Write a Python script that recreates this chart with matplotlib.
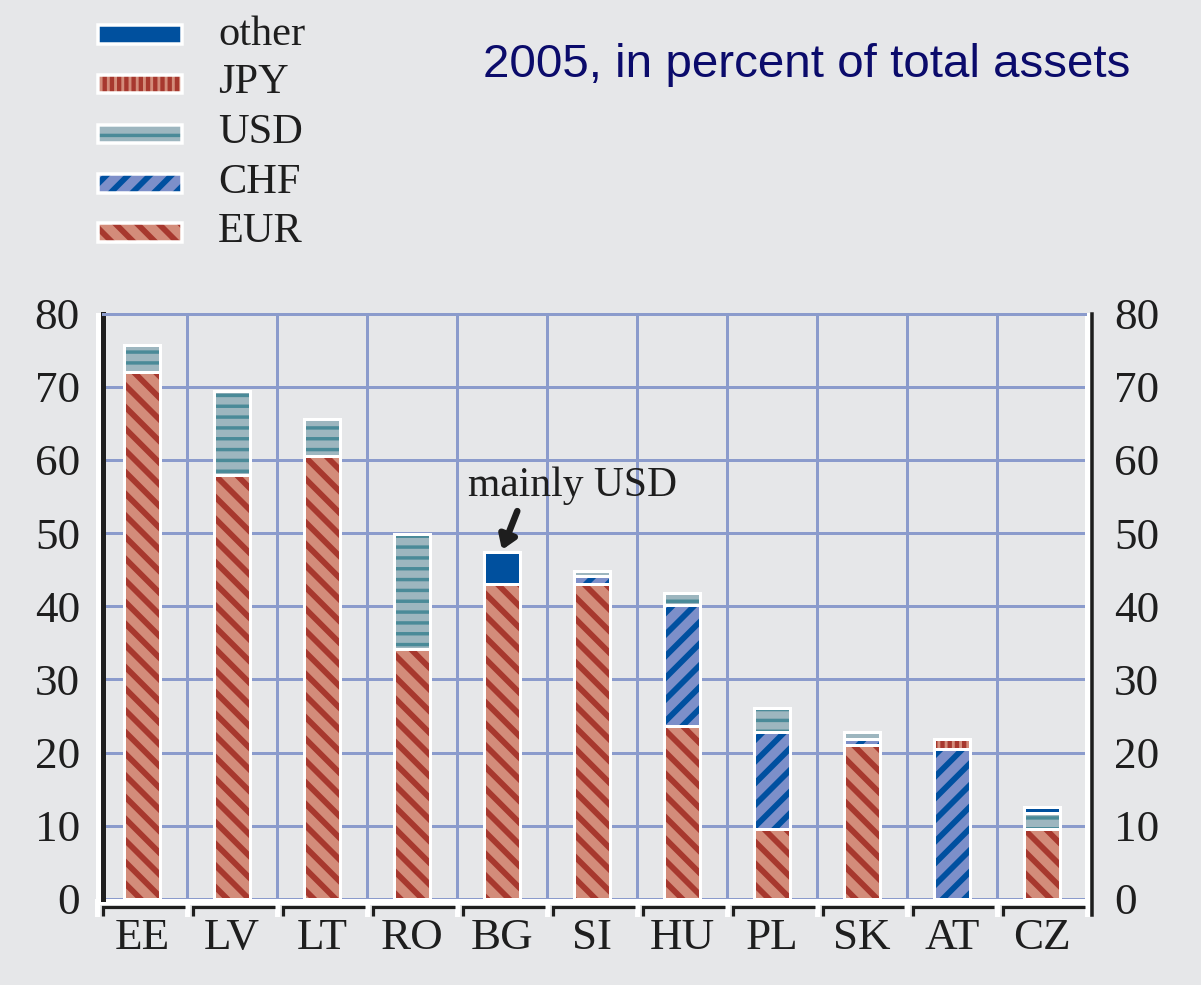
import numpy as np
import matplotlib.pyplot as plt
from matplotlib.patches import Rectangle
from matplotlib.transforms import blended_transform_factory

# data (percent of total assets, 2005)
countries = ['EE', 'LV', 'LT', 'RO', 'BG', 'SI', 'HU', 'PL', 'SK', 'AT', 'CZ']
eur   = np.array([72.0, 57.9, 60.5, 34.2, 43.1, 43.1, 23.6, 9.6, 21.1, 0.0, 9.6])
chf   = np.array([0.0, 0.0, 0.0, 0.0, 0.0, 1.0, 16.6, 13.2, 0.8, 20.5, 0.0])
usd   = np.array([3.7, 11.5, 5.1, 15.7, 0.0, 0.7, 1.6, 3.3, 0.9, 0.0, 2.2])
jpy   = np.array([0.0, 0.0, 0.0, 0.0, 0.0, 0.0, 0.0, 0.0, 0.0, 1.4, 0.0])
other = np.array([0.0, 0.0, 0.0, 0.0, 4.3, 0.0, 0.0, 0.0, 0.0, 0.0, 0.8])
yticks = [0, 10, 20, 30, 40, 50, 60, 70, 80]

W, H, DPI = 1201, 985, 130
def pt(px):
    return px * 72 / DPI

serif = 'Liberation Serif'
plt.rcParams['font.family'] = [serif, 'DejaVu Serif']
plt.rcParams['hatch.linewidth'] = 3.2
bg = '#e6e7e9'
gridc = '#8b9bcc'
ink = '#1e1e1e'

# name, values, face colour, stripe colour, hatch, stripe width
series = [
    ('EUR', eur, '#d38c7a', '#a7382e', '\\\\', 3.2),
    ('CHF', chf, '#7d8fc9', '#0050a0', '//', 3.2),
    ('USD', usd, '#9db6bf', '#4a8a98', '--', 1.9),
    ('JPY', jpy, '#d38c7a', '#a7382e', '|||', 2.4),
    ('other', other, '#00509e', '#00509e', None, 3.2),
]

fig = plt.figure(figsize=(W / DPI, H / DPI), dpi=DPI, facecolor=bg)

# axes area in pixels
L, R, T, B = 102.5, 1085, 313.5, 899
ax = fig.add_axes([L / W, 1 - B / H, (R - L) / W, (B - T) / H])
ax.set_facecolor(bg)
x0 = -0.5 + (L - 97) / 90
x1 = -0.5 + (R - 97) / 90
ax.set_xlim(x0, x1)
ax.set_ylim(0, 80)

# white frame behind the plot area
fig.patches.append(Rectangle((96 / W, 1 - 905 / H), (1090 - 96) / W, (905 - 313) / H,
                             transform=fig.transFigure, facecolor='white',
                             edgecolor='none', zorder=-1))

x = np.arange(len(countries))
width = 0.41
bottom = np.zeros(len(countries))
for name, vals, face, hc, hatch, hlw in series:
    m = vals > 0
    with plt.rc_context({'hatch.linewidth': hlw}):
        ax.bar(x[m], vals[m], width, bottom=bottom[m], color=face, edgecolor=hc,
               hatch=hatch, linewidth=0, zorder=2)
    ax.bar(x[m], vals[m], width, bottom=bottom[m], facecolor='none',
           edgecolor='white', linewidth=pt(3), zorder=3)
    bottom += vals

# grid
ax.set_axisbelow(True)
ax.set_yticks(yticks)
ax.set_xticks(x)
ax.set_xticklabels(countries)
ax.set_xticks(np.arange(len(countries) - 1) + 0.5, minor=True)
ax.grid(axis='y', which='major', color=gridc, linewidth=pt(3))
ax.grid(axis='x', which='minor', color=gridc, linewidth=pt(3))
ax.yaxis.get_major_ticks()[0].gridline.set_visible(False)

ax.tick_params(axis='y', which='major', length=0, labelsize=25, pad=12.5,
               left=True, right=True, labelleft=True, labelright=True,
               labelcolor=ink)
ax.tick_params(axis='x', which='both', length=0, labelsize=25, pad=10.5,
               labelcolor=ink)

# spines
ax.spines['left'].set_color(ink)
ax.spines['left'].set_linewidth(pt(5))
ax.spines['right'].set_color(ink)
ax.spines['right'].set_linewidth(pt(3.5))
ax.spines['right'].set_position(('outward', pt(6.5)))
ax.spines['right'].set_bounds(-2.2, 80)
ax.spines['top'].set_color(gridc)
ax.spines['top'].set_linewidth(pt(3))
ax.spines['bottom'].set_visible(False)

# bracket-style bottom axis
bt = blended_transform_factory(ax.transData, ax.transAxes)
hax = B - T
for k in range(len(countries) + 1):
    xb = k - 0.5
    ax.add_patch(Rectangle((xb - 2 / 90, -18 / hax), 5 / 90, 18 / hax, transform=bt,
                           facecolor='white', edgecolor='none', clip_on=False, zorder=1))
for k in range(len(countries)):
    xb = k - 0.5
    xs = [xb + 5.5 / 90, xb + 5.5 / 90, xb + 1 - 2.5 / 90]
    ys = [-17 / hax, -7.5 / hax, -7.5 / hax]
    ax.plot(xs, ys, color=ink, linewidth=pt(3.2), transform=bt, clip_on=False,
            solid_joinstyle='miter', solid_capstyle='butt', zorder=4)

# annotation
ax.text(4.78, 55.0, 'mainly USD', ha='center', va='baseline', fontsize=23,
        color=ink)
ax.annotate('', xy=(4.0, 47.7), xytext=(4.17, 53.0),
            arrowprops=dict(arrowstyle='-|>,head_width=0.4,head_length=0.6',
                            lw=pt(6.5), color=ink, shrinkA=0, shrinkB=0))

# legend (top to bottom)
leg_rows = [('other', 34.5, 45), ('JPY', 84, 93), ('USD', 134, 143),
            ('CHF', 183.5, 193), ('EUR', 232.5, 242)]
style = {s[0]: s for s in series}
for name, cy, base in leg_rows:
    _, _, face, hc, hatch, hlw = style[name]
    rx, ry, rw, rh = 97.5, cy - 9, 85, 18
    with plt.rc_context({'hatch.linewidth': hlw}):
        fig.patches.append(Rectangle((rx / W, 1 - (ry + rh) / H), rw / W, rh / H,
                                     transform=fig.transFigure, facecolor=face,
                                     edgecolor=hc, hatch=hatch, linewidth=0))
    fig.patches.append(Rectangle((rx / W, 1 - (ry + rh) / H), rw / W, rh / H,
                                 transform=fig.transFigure, facecolor='none',
                                 edgecolor='white', linewidth=pt(3.5)))
    fig.text(218 / W, 1 - base / H, name, ha='left', va='baseline', fontsize=23.5,
             color=ink)

fig.text(483 / W, 1 - 77 / H, '2005, in percent of total assets', ha='left',
         va='baseline', fontsize=26.3, family='Liberation Sans', color='#0b0b6b')

fig.savefig('out.png', dpi=DPI, facecolor=bg)
